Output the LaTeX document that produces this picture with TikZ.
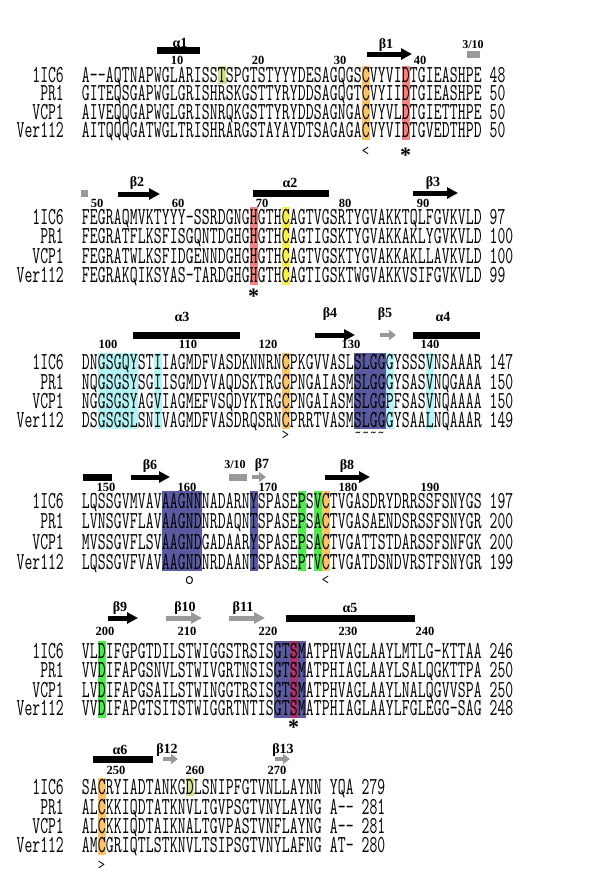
\documentclass[tikz,border=0pt]{standalone}
\usepackage{fontspec}
\setmainfont{Liberation Serif}
\usepackage{graphicx}
\usetikzlibrary{arrows.meta}

\definecolor{hlorange}{HTML}{F9C36A}
\definecolor{hlred}{HTML}{F38383}
\definecolor{hlyellow}{HTML}{F4F04C}
\definecolor{hlolive}{HTML}{D2E08C}
\definecolor{hlcyan}{HTML}{B4F4F4}
\definecolor{hlblue}{HTML}{5A5AA0}
\definecolor{hlgreen}{HTML}{4CEC4C}
\definecolor{hlcrimson}{HTML}{A8346C}
\definecolor{ssgrey}{HTML}{999999}

\newcommand\seqfont{\fontsize{15.24pt}{16pt}\selectfont\ttfamily}
\newcommand\tallseq[1]{\scalebox{1}[1.6]{\seqfont #1}}
% one residue per 8pt cell, "." gives an empty cell
\def\cellloop#1{\ifx\relax#1\else\cellchar{#1}\expandafter\cellloop\fi}
\def\cellchar#1{\ifx.#1\hbox to 8pt{}\else\hbox to 8pt{\hss#1\hss}\fi}
\newcommand\tallcells[1]{\scalebox{1}[1.6]{\seqfont\cellloop#1\relax}}
% column c of a block: left edge at 73.5+8c
\newcommand\hl[4]{\fill[#1] ({73.5+8*#2},#3) rectangle ({81.5+8*#2},#4);}
\newcommand\hlspan[5]{\fill[#1] ({73.5+8*#2},#4) rectangle ({81.5+8*#3},#5);}
\newcommand\seqrow[6]{%
  \node[rowname] (#1n) at (64,#2) {\tallseq{#3}};
  \node[seqline] (#1s) at (81.5,#2) {\tallcells{#4}};
  \node[seqline] (#1e) at (#6,#2) {\tallseq{#5}};}

\begin{document}
\begin{tikzpicture}[x=1pt,y=-1pt,
  rowname/.style={anchor=base east, inner sep=0pt},
  seqline/.style={anchor=base west, inner sep=0pt},
  strand/.style={line width=5pt, -{Triangle[length=11pt,width=11pt]}},
  shortstrand/.style={line width=4.5pt, ssgrey, -{Triangle[length=7pt,width=10pt]}},
  ssname/.style={font=\fontsize{14}{14}\selectfont\bfseries, inner sep=0pt},
  tenname/.style={font=\fontsize{12}{12}\selectfont\bfseries, inner sep=0pt},
  resnum/.style={font=\fontsize{12.5}{12}\selectfont\bfseries, inner sep=0pt},
  sitemark/.style={font=\fontsize{15}{15}\selectfont\ttfamily, inner sep=0pt},
  starmark/.style={font=\fontsize{22}{22}\selectfont\bfseries, inner sep=0pt}]
\fill[white] (0,0) rectangle (600,873);
\useasboundingbox (0,0) rectangle (600,873);

% ---- block 1
\fill (157,46.5) rectangle (200,53.5);
\node[ssname] (l1) at (180,43) {α1};
\draw[strand] (367,54) -- (412,54);
\node[ssname] (l2) at (386,45) {β1};
\fill[ssgrey] (467,51) rectangle (480,58);
\node[tenname] (l3) at (473,45) {3/10};
\node[resnum] (p10) at (177,60.5) {10};
\node[resnum] (p20) at (258,60.5) {20};
\node[resnum] (p30) at (340,60.5) {30};
\node[resnum] (p40) at (420,60.5) {40};
\hl{hlolive}{18}{66}{84}
\hl{hlorange}{36}{65.5}{140}
\hl{hlred}{41}{65.5}{140}
\seqrow{a1}{82.5}{1IC6}{A--AQTNAPWGLARISSTSPGTSTYYYDESAGQGSCVYVIDTGIEASHPE}{48}{489.5}
\seqrow{a2}{100.5}{PR1}{GITEQSGAPWGLGRISHRSKGSTTYRYDDSAGQGTCVYIIDTGIEASHPE}{50}{489.5}
\seqrow{a3}{119}{VCP1}{AIVEQQGAPWGLGRISNRQKGSTTYRYDDSAGNGACVYVLDTGIETTHPE}{50}{489.5}
\seqrow{a4}{137.5}{Ver112}{AITQQQGATWGLTRISHRARGSTAYAYDTSAGAGACVYVIDTGVEDTHPD}{50}{489.5}
\node[sitemark] (m1) at (365.5,151) {<};
\node[starmark] (m2) at (405.5,155) {*};

% ---- block 2
\fill[ssgrey] (81,190) rectangle (88,197);
\draw[strand] (118,194) -- (160,194);
\node[ssname] (l4) at (137,183) {β2};
\fill (253,190) rectangle (329,197);
\node[ssname] (l5) at (290,183) {α2};
\draw[strand] (413,193) -- (458,193);
\node[ssname] (l6) at (433,183) {β3};
\node[resnum] (p50) at (97,203.5) {50};
\node[resnum] (p60) at (178,203.5) {60};
\node[resnum] (p70) at (262,203.5) {70};
\node[resnum] (p80) at (345,203.5) {80};
\node[resnum] (p90) at (423,203.5) {90};
\hl{hlred}{22}{207}{285}
\hl{hlyellow}{26}{207}{285}
\seqrow{b1}{224}{1IC6}{FEGRAQMVKTYYY-SSRDGNGHGTHCAGTVGSRTYGVAKKTQLFGVKVLD}{97}{489.5}
\seqrow{b2}{243.5}{PR1}{FEGRATFLKSFISGQNTDGHGHGTHCAGTIGSKTYGVAKKAKLYGVKVLD}{100}{489.5}
\seqrow{b3}{263}{VCP1}{FEGRATWLKSFIDGENNDGHGHGTHCAGTVGSKTYGVAKKAKLLAVKVLD}{100}{489.5}
\seqrow{b4}{282.5}{Ver112}{FEGRAKQIKSYAS-TARDGHGHGTHCAGTIGSKTWGVAKKVSIFGVKVLD}{99}{489.5}
\node[starmark] (m3) at (253.5,296) {*};

% ---- block 3
\fill (133,331.5) rectangle (240,338.5);
\node[ssname] (l7) at (182,317) {α3};
\draw[strand] (315,335) -- (355,335);
\node[ssname] (l8) at (330,314) {β4};
\draw[shortstrand] (380,335) -- (396,335);
\node[ssname] (l9) at (385,314) {β5};
\fill (413,331.5) rectangle (480,338.5);
\node[ssname] (l10) at (443,317) {α4};
\node[resnum] (p100) at (108,344.5) {100};
\node[resnum] (p110) at (188,344.5) {110};
\node[resnum] (p120) at (268,344.5) {120};
\node[resnum] (p130) at (351,344.5) {130};
\node[resnum] (p140) at (430,344.5) {140};
\hlspan{hlcyan}{3}{7}{353}{429}
\hl{hlcyan}{10}{353}{429}
\hl{hlorange}{26}{353}{429}
\hlspan{hlblue}{35}{38}{353}{429}
\hl{hlcyan}{39}{353}{429}
\hl{hlcyan}{44}{353}{429}
\seqrow{c1}{369}{1IC6}{DNGSGQYSTIIAGMDFVASDKNNRNCPKGVVASLSLGGGYSSSVNSAAAR}{147}{489.5}
\seqrow{c2}{389}{PR1}{NQGSGSYSGIISGMDYVAQDSKTRGCPNGAIASMSLGGGYSASVNQGAAA}{150}{489.5}
\seqrow{c3}{408.5}{VCP1}{NGGSGSYAGVIAGMEFVSQDYKTRGCPNGAIASMSLGGPFSASVNQAAAA}{150}{489.5}
\seqrow{c4}{427.5}{Ver112}{DSGSGSLSNIVAGMDFVASDRQSRNCPRRTVASMSLGGGYSAALNQAAAR}{149}{489.5}
\node[sitemark] (m4) at (285.5,435) {>};
\node[sitemark] (m5) at (369.5,435) {\~{}\~{}\~{}\~{}};

% ---- block 4
\fill (83,473.5) rectangle (112,480.5);
\draw[strand] (131,477) -- (170,477);
\node[ssname] (l11) at (150,466) {β6};
\fill[ssgrey] (229,473.5) rectangle (247,480.5);
\node[tenname] (l12) at (235,465) {3/10};
\draw[shortstrand] (252,477) -- (266,477);
\node[ssname] (l13) at (262,465) {β7};
\draw[strand] (325,477) -- (370,477);
\node[ssname] (l14) at (347,466) {β8};
\node[resnum] (p150) at (106,487.5) {150};
\node[resnum] (p160) at (187,487.5) {160};
\node[resnum] (p170) at (268,487.5) {170};
\node[resnum] (p180) at (348,487.5) {180};
\node[resnum] (p190) at (430,487.5) {190};
\hlspan{hlblue}{11}{15}{491}{571}
\hl{hlblue}{22}{491}{571}
\hl{hlgreen}{28}{491}{571}
\hl{hlgreen}{30}{491}{571}
\hl{hlorange}{31}{491}{571}
\seqrow{d1}{508}{1IC6}{LQSSGVMVAVAAGNNNADARNYSPASEPSVCTVGASDRYDRRSSFSNYGS}{197}{489.5}
\seqrow{d2}{528.5}{PR1}{LVNSGVFLAVAAGNDNRDAQNTSPASEPSACTVGASAENDSRSSFSNYGR}{200}{489.5}
\seqrow{d3}{549}{VCP1}{MVSSGVFLSVAAGNDGADAARYSPASEPSACTVGATTSTDARSSFSNFGK}{200}{489.5}
\seqrow{d4}{569}{Ver112}{LQSSGVFVAVAAGNDNRDAANTSPASEPTVCTVGATDSNDVRSTFSNYGR}{199}{489.5}
\node[sitemark, font=\fontsize{18}{18}\selectfont\ttfamily] (m6) at (189.5,581) {o};
\node[sitemark] (m7) at (325.5,580) {<};

% ---- block 5
\draw[strand] (108,618) -- (138,618);
\node[ssname] (l15) at (120,608) {β9};
\draw[strand, ssgrey] (166,618) -- (202,618);
\node[ssname] (l16) at (185,608) {β10};
\draw[strand, ssgrey] (229,618) -- (265,618);
\node[ssname] (l17) at (243,608) {β11};
\fill (286,614.5) rectangle (415,621.5);
\node[ssname] (l18) at (350,608) {α5};
\node[resnum] (p200) at (105,631.5) {200};
\node[resnum] (p210) at (187,631.5) {210};
\node[resnum] (p220) at (268,631.5) {220};
\node[resnum] (p230) at (348,631.5) {230};
\node[resnum] (p240) at (425,631.5) {240};
\hl{hlgreen}{3}{641}{718}
\hlspan{hlblue}{25}{28}{641}{718}
\hl{hlcrimson}{27}{641}{718}
\seqrow{e1}{658}{1IC6}{VLDIFGPGTDILSTWIGGSTRSISGTSMATPHVAGLAAYLMTLG-KTTAA}{246}{489.5}
\seqrow{e2}{677.5}{PR1}{VVDIFAPGSNVLSTWIVGRTNSISGTSMATPHIAGLAAYLSALQGKTTPA}{250}{489.5}
\seqrow{e3}{697}{VCP1}{LVDIFAPGSAILSTWINGGTRSISGTSMATPHVAGLAAYLNALQGVVSPA}{250}{489.5}
\seqrow{e4}{715.5}{Ver112}{VVDIFAPGTSITSTWIGGRTNTISGTSMATPHIAGLAAYLFGLEGG-SAG}{248}{489.5}
\node[starmark] (m8) at (293.5,727) {*};

% ---- block 6
\fill (93,755.5) rectangle (153,762.5);
\node[ssname] (l19) at (120,750) {α6};
\draw[shortstrand] (163,759) -- (178,759);
\node[ssname] (l20) at (167,750) {β12};
\draw[shortstrand] (275,759) -- (290,759);
\node[ssname] (l21) at (283,750) {β13};
\node[resnum] (p250) at (116,770.5) {250};
\node[resnum] (p260) at (195,770.5) {260};
\node[resnum] (p270) at (277,770.5) {270};
\hl{hlorange}{3}{777.5}{855}
\hl{hlolive}{14}{778}{796}
\seqrow{f1}{794.5}{1IC6}{SACRYIADTANKGDLSNIPFGTVNLLAYNN.YQA}{279}{361.5}
\seqrow{f2}{814.5}{PR1}{ALCKKIQDTATKNVLTGVPSGTVNYLAYNG.A--}{281}{361.5}
\seqrow{f3}{833.5}{VCP1}{ALCKKIQDTAIKNALTGVPASTVNFLAYNG.A--}{281}{361.5}
\seqrow{f4}{852.5}{Ver112}{AMCGRIQTLSTKNVLTSIPSGTVNYLAFNG.AT-}{280}{361.5}
\node[sitemark] (m9) at (101.5,865) {>};
\end{tikzpicture}
\end{document}
